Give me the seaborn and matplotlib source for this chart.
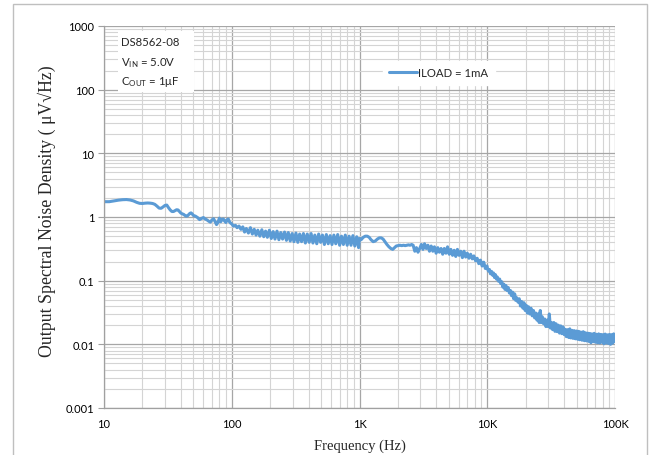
import numpy as np
import pandas as pd
import seaborn as sns
import matplotlib
matplotlib.use("Agg")
import matplotlib.pyplot as plt
from matplotlib.ticker import FixedLocator, FixedFormatter, LogLocator, NullFormatter
from matplotlib.patches import Rectangle

# ---------------- data ----------------
freq_low = [10, 11, 12, 13, 14, 15, 16, 17, 18, 19,
            20, 21, 22, 23, 24, 25, 26, 27, 28, 29,
            30, 31, 32, 33, 34, 35, 36, 37, 38, 39,
            40, 41, 42, 43, 44, 45, 46, 47, 48, 49,
            50, 52, 54, 56, 58, 60, 62, 64, 66, 68,
            70, 72, 74, 76, 78, 80, 82, 84, 86, 88,
            90, 92, 94, 96, 98]
noise_low = [1.74, 1.74, 1.79, 1.84, 1.87, 1.88, 1.85, 1.79, 1.70, 1.64,
             1.63, 1.65, 1.66, 1.65, 1.63, 1.58, 1.48, 1.38, 1.37, 1.44,
             1.52, 1.54, 1.40, 1.29, 1.22, 1.22, 1.26, 1.30, 1.29, 1.22,
             1.15, 1.12, 1.10, 1.06, 1.03, 1.04, 1.09, 1.14, 1.16, 1.12,
             1.06, 1.03, 0.98, 0.91, 0.95, 0.98, 0.93, 0.90, 0.86, 0.83,
             0.90, 0.94, 0.85, 0.76, 0.82, 0.96, 0.84, 0.92, 0.93, 0.86,
             0.82, 0.91, 0.93, 0.84, 0.80]

freq_mid = [100, 103, 107, 110, 114, 118, 122, 126, 130, 135,
            140, 145, 150, 155, 160, 166, 172, 178, 184, 190,
            197, 204, 211, 218, 226, 234, 242, 250, 259, 268,
            277, 287, 297, 307, 318, 329, 340, 352, 364, 377,
            390, 404, 418, 432, 447, 463, 479, 496, 513, 531,
            550, 569, 589, 609, 630, 652, 675, 699, 723, 748,
            774, 801, 829, 858, 888, 919, 951, 984, 1000]
noise_mid = [0.78, 0.72, 0.74, 0.68, 0.72, 0.64, 0.70, 0.58, 0.66, 0.56,
             0.68, 0.54, 0.64, 0.52, 0.62, 0.50, 0.63, 0.49, 0.60, 0.48,
             0.62, 0.46, 0.59, 0.45, 0.60, 0.44, 0.57, 0.45, 0.58, 0.43,
             0.57, 0.42, 0.55, 0.41, 0.56, 0.40, 0.54, 0.41, 0.55, 0.39,
             0.54, 0.40, 0.55, 0.39, 0.52, 0.38, 0.54, 0.40, 0.52, 0.37,
             0.53, 0.38, 0.51, 0.37, 0.52, 0.38, 0.53, 0.36, 0.50, 0.37,
             0.52, 0.36, 0.50, 0.36, 0.51, 0.35, 0.49, 0.33, 0.46]

freq_bump = [1030, 1070, 1110, 1150, 1190, 1230, 1280, 1330, 1380, 1430,
             1480, 1530, 1580, 1640, 1700, 1760]
noise_bump = [0.44, 0.48, 0.50, 0.50, 0.48, 0.44, 0.41, 0.42, 0.45, 0.47,
              0.47, 0.45, 0.41, 0.37, 0.34, 0.32]

freq_knee = [1820, 1880, 1940, 2000, 2070, 2140, 2210, 2280, 2350, 2420,
             2490, 2560, 2630, 2710, 2790, 2870, 2960, 3050, 3140, 3230,
             3330, 3430, 3530, 3640, 3750, 3860, 3980, 4100, 4220, 4350,
             4480, 4610, 4750, 4890, 5040, 5190, 5350, 5510, 5670, 5840,
             6020, 6200, 6390, 6580, 6780, 6980, 7190, 7410, 7630, 7860,
             8100, 8340, 8590, 8850, 9120, 9390, 9670, 9960]
noise_knee = [0.31, 0.33, 0.35, 0.355, 0.36, 0.355, 0.36, 0.355, 0.36, 0.365,
              0.36, 0.37, 0.36, 0.29, 0.33, 0.28, 0.32, 0.37, 0.31, 0.38,
              0.32, 0.36, 0.29, 0.35, 0.29, 0.34, 0.27, 0.33, 0.28, 0.32,
              0.26, 0.32, 0.27, 0.34, 0.26, 0.31, 0.25, 0.30, 0.24, 0.31,
              0.25, 0.29, 0.23, 0.29, 0.235, 0.27, 0.225, 0.26, 0.22, 0.245,
              0.205, 0.225, 0.185, 0.21, 0.17, 0.195, 0.155, 0.17]

freq_high_khz = [10.0, 10.2, 10.4, 10.6, 10.8, 11.0, 11.2, 11.4, 11.6, 11.8,
                 12.0, 12.25, 12.5, 12.75, 13.0, 13.25, 13.5, 13.75, 14.0, 14.3,
                 14.6, 14.9, 15.2, 15.5, 15.8, 16.1, 16.4, 16.7, 17.0, 17.4,
                 17.8, 18.2, 18.6, 19.0, 19.4, 19.8, 20.2, 20.6, 21.0, 21.5,
                 22.0, 22.5, 23.0, 23.5, 24.0, 24.5, 25.0, 25.5, 26.0, 26.5,
                 27.0, 27.6, 28.2, 28.8, 29.4, 30.0, 30.6, 31.2, 31.8, 32.5,
                 33.2, 33.9, 34.6, 35.3, 36.0, 36.8, 37.6, 38.4, 39.2, 40.0,
                 40.8, 41.6, 42.5, 43.4, 44.3, 45.2, 46.1, 47.0, 48.0, 49.0,
                 50.0, 51.0, 52.0, 53.0, 54.0, 55.2, 56.4, 57.6, 58.8, 60.0,
                 61.2, 62.4, 63.6, 64.8, 66.0, 67.4, 68.8, 70.2, 71.6, 73.0,
                 74.5, 76.0, 77.5, 79.0, 80.5, 82.0, 83.7, 85.4, 87.1, 88.8,
                 90.5, 92.3, 94.1, 95.9, 97.7, 100.0]
noise_high = [0.160, 0.142, 0.150, 0.128, 0.140, 0.122, 0.132, 0.112, 0.124, 0.106,
              0.114, 0.098, 0.106, 0.090, 0.096, 0.079, 0.088, 0.073, 0.084, 0.070,
              0.078, 0.064, 0.070, 0.058, 0.066, 0.052, 0.062, 0.049, 0.054, 0.046,
              0.052, 0.040, 0.047, 0.037, 0.045, 0.034, 0.041, 0.031, 0.039, 0.030,
              0.037, 0.028, 0.034, 0.026, 0.031, 0.024, 0.030, 0.022, 0.034, 0.022,
              0.027, 0.021, 0.025, 0.019, 0.024, 0.019, 0.030, 0.018, 0.022, 0.017,
              0.022, 0.016, 0.021, 0.0158, 0.020, 0.0150, 0.0195, 0.0147, 0.0188, 0.0142,
              0.0172, 0.0132, 0.0170, 0.0128, 0.0175, 0.0126, 0.0166, 0.0124, 0.0164, 0.0122,
              0.0162, 0.0120, 0.0160, 0.0118, 0.0156, 0.0116, 0.0158, 0.0114, 0.0152, 0.0113,
              0.0150, 0.0111, 0.0148, 0.0106, 0.0146, 0.0110, 0.0149, 0.0108, 0.0144, 0.0106,
              0.0146, 0.0105, 0.0143, 0.0108, 0.0142, 0.0102, 0.0145, 0.0105, 0.0141, 0.0103,
              0.0143, 0.0100, 0.0142, 0.0104, 0.0146, 0.0112]

x_tick_values = [10, 100, 1000, 10000, 100000]
x_tick_labels = ["10", "100", "1K", "10K", "100K"]
y_tick_values = [0.001, 0.01, 0.1, 1, 10, 100, 1000]
y_tick_labels = ["0.001", "0.01", "0.1", "1", "10", "100", "1000"]
series_label = "ILOAD = 1mA"

# ---------------- build table ----------------
freq = freq_low + freq_mid + freq_bump + freq_knee + [f * 1000 for f in freq_high_khz]
noise = noise_low + noise_mid + noise_bump + noise_knee + noise_high
df = pd.DataFrame({"freq": freq, "noise": noise})

# ---------------- styling ----------------
sns.set_style("white")
plt.rcParams["font.family"] = ["Lato", "DejaVu Sans"]
plt.rcParams["mathtext.fontset"] = "custom"
plt.rcParams["mathtext.rm"] = "Lato"

fig = plt.figure(figsize=(6.54, 4.56), dpi=100)
ax = fig.add_axes([104 / 654, 1 - 409 / 456, 511 / 654, 382 / 456])

blue = "#5B9BD5"
sns.lineplot(data=df, x="freq", y="noise", color=blue, lw=2.2,
             estimator=None, sort=False, label=series_label, ax=ax)

ax.set_xscale("log")
ax.set_yscale("log")
ax.set_xlim(10, 100000)
ax.set_ylim(0.001, 1000)

ax.xaxis.set_major_locator(FixedLocator(x_tick_values))
ax.xaxis.set_major_formatter(FixedFormatter(x_tick_labels))
ax.yaxis.set_major_locator(FixedLocator(y_tick_values))
ax.yaxis.set_major_formatter(FixedFormatter(y_tick_labels))
ax.xaxis.set_minor_locator(LogLocator(base=10, subs=(2, 3, 4, 5, 6, 7, 8, 9), numticks=20))
ax.yaxis.set_minor_locator(LogLocator(base=10, subs=(2, 3, 4, 5, 6, 7, 8, 9), numticks=20))
ax.xaxis.set_minor_formatter(NullFormatter())
ax.yaxis.set_minor_formatter(NullFormatter())

ax.tick_params(axis="x", which="major", length=0, pad=7, labelsize=8, colors="#000000")
ax.tick_params(axis="y", which="major", length=4, width=0.8,
               pad=3, labelsize=8, labelcolor="#000000", color="#a0a0a0", left=True)
ax.tick_params(which="minor", length=0)

ax.set_axisbelow(True)
ax.grid(which="major", color="#a6a6a6", lw=0.9)
ax.grid(which="minor", color="#d4d4d4", lw=0.8)
for s in ["top", "right"]:
    ax.spines[s].set_visible(False)
for s in ["left", "bottom"]:
    ax.spines[s].set_color("#a0a0a0")
    ax.spines[s].set_linewidth(0.9)

serif = ["Liberation Serif", "DejaVu Serif"]
ax.set_xlabel("Frequency (Hz)", fontsize=10.5, family=serif, va="center")
ax.xaxis.set_label_coords(0.5, -(446 - 409) / 382)
ax.set_ylabel("Output Spectral Noise Density ( \u03bcV\u221aHz)", fontsize=12.8,
              family=serif, va="center")
ax.yaxis.set_label_coords(-(104 - 47) / 511, 0.518)

# legend
leg = ax.legend(loc="center", bbox_to_anchor=(0.655, 0.877), fontsize=8.2,
                frameon=True, fancybox=False, handlelength=2.4, handletextpad=0.1,
                borderpad=0.6, borderaxespad=0)
leg.get_frame().set_facecolor("white")
leg.get_frame().set_edgecolor("white")
leg.get_frame().set_alpha(1)

# annotation box
ax.add_patch(Rectangle((14 / 511, 1 - 66 / 382), 76 / 511, 61 / 382,
                       transform=ax.transAxes, facecolor="white", edgecolor="none",
                       zorder=3))
tx = 17 / 511
ax.text(tx, 1 - (43 - 27) / 382, "DS8562-08", transform=ax.transAxes,
        fontsize=8.2, va="center", ha="left", zorder=4)
ax.text(tx, 1 - (63 - 27) / 382, r"V$_{\mathregular{IN}}$ = 5.0V", transform=ax.transAxes,
        fontsize=8.2, va="center", ha="left", zorder=4)
ax.text(tx, 1 - (82 - 27) / 382, "C$_{\\mathregular{OUT}}$ = 1\u03bcF", transform=ax.transAxes,
        fontsize=8.2, va="center", ha="left", zorder=4)

# outer frame
fig.patches.append(Rectangle((13 / 654, -0.02), 634 / 654, 1.02 - 5 / 456,
                             transform=fig.transFigure, facecolor="none",
                             edgecolor="#bfbfbf", lw=1.0))

fig.savefig("out.png", dpi=100, facecolor="white")
